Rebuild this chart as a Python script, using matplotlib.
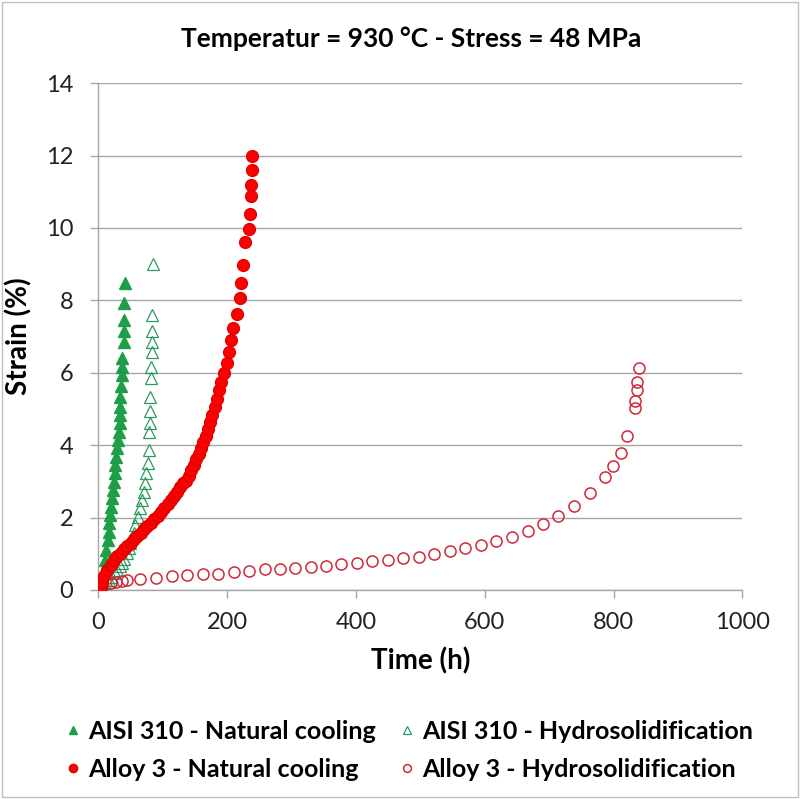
import matplotlib
matplotlib.use("Agg")
import matplotlib.pyplot as plt
from matplotlib.patches import Rectangle

plt.rcParams['font.family'] = ['Lato', 'DejaVu Sans']

# AISI 310 - Natural cooling
t_aisi_nc = [0, 2, 5.7, 8.2, 10.9, 12.4, 14.5, 16, 17.1, 18.7, 19.6, 21.2, 22.8, 23.8,
             25.3, 26.4, 28, 29, 30.6, 31.6, 33.1, 33.1, 34.2, 34.2, 35.2, 36.8, 36.8,
             36.8, 39.4, 39.4, 39.4, 39.4, 42]
s_aisi_nc = [0, 0.05, 0.28, 0.55, 0.83, 1.10, 1.38, 1.61, 1.84, 2.07, 2.30, 2.53, 2.76, 2.99,
             3.22, 3.45, 3.68, 3.91, 4.14, 4.37, 4.60, 4.83, 5.06, 5.34, 5.64, 5.94, 6.17,
             6.40, 6.86, 7.14, 7.46, 7.92, 8.49]

# AISI 310 - Hydrosolidification
t_aisi_hy = [0, 5, 10.9, 16, 21.2, 25, 29, 33, 36.8, 40, 44.6, 47, 49.8, 52, 54.9, 57.5,
             61, 64.2, 67.8, 70.4, 73.1, 74.6, 76.7, 78.2, 78.2, 79.8, 80.9, 80.9, 81.8,
             81.8, 83.4, 83.4, 83.4, 83.4, 85]
s_aisi_hy = [0, 0.10, 0.19, 0.28, 0.37, 0.46, 0.55, 0.65, 0.74, 0.86, 1.01, 1.15, 1.29, 1.43,
             1.57, 1.80, 2.02, 2.26, 2.49, 2.72, 2.95, 3.22, 3.50, 3.87, 4.37, 4.60, 4.93,
             5.34, 5.85, 6.17, 6.58, 6.86, 7.14, 7.60, 9.0]

# Alloy 3 - Natural cooling
t_alloy_nc = [0, 3.6, 5.1, 8.9, 14, 19.1, 24.4, 29.5, 34.7, 40, 45.1, 50.2, 55.5, 60.6,
              65.8, 71.1, 76.2, 81.4, 86.6, 91.8, 96.9, 102.2, 107.3, 112.4, 117.7, 122.8,
              126.4, 130.6, 136.8, 140.4, 144.1, 148.2, 151.9, 156, 159.7, 162.8, 166.4,
              170, 173.1, 176.8, 180.9, 184.5, 187.1, 190.8, 194.9, 199, 202.6, 206.4,
              209.5, 214.6, 219.7, 222, 225, 227, 233.8, 234.8, 236.4, 237.4, 239, 239]
s_alloy_nc = [0, 0.09, 0.23, 0.39, 0.55, 0.69, 0.83, 0.94, 1.03, 1.12, 1.22, 1.31, 1.40, 1.49,
              1.58, 1.68, 1.77, 1.86, 1.95, 2.04, 2.15, 2.26, 2.38, 2.49, 2.60, 2.72,
              2.84, 2.95, 3.02, 3.15, 3.31, 3.45, 3.61, 3.76, 3.91, 4.10, 4.25,
              4.44, 4.65, 4.83, 5.05, 5.27, 5.51, 5.74, 5.99, 6.28, 6.58, 6.91,
              7.23, 7.62, 8.06, 8.47, 8.98, 9.62, 9.96, 10.39, 10.87, 11.19, 11.6, 11.99]

# Alloy 3 - Hydrosolidification
t_alloy_hy = [0, 20, 28, 36, 44, 65, 89, 114, 138, 162, 186, 210, 234, 259, 282, 306, 330,
              354, 377, 402, 425, 450, 473, 498, 521, 546, 569, 594, 618, 642, 667, 690,
              714, 738, 763, 786, 799, 811, 821, 833, 834, 837, 837, 839]
s_alloy_hy = [0, 0.18, 0.23, 0.26, 0.28, 0.30, 0.34, 0.39, 0.40, 0.44, 0.45, 0.50, 0.53, 0.57,
              0.59, 0.62, 0.64, 0.66, 0.71, 0.74, 0.80, 0.83, 0.87, 0.92, 0.99, 1.08, 1.15,
              1.23, 1.35, 1.46, 1.63, 1.82, 2.04, 2.32, 2.67, 3.13, 3.43, 3.79, 4.25, 5.02,
              5.22, 5.52, 5.75, 6.12]

fig = plt.figure(figsize=(8.0, 7.99), dpi=100)
ax = fig.add_axes([0.123, 0.2616, 0.805, 0.6344])

ms = 8.5
h1, = ax.plot(t_aisi_nc, s_aisi_nc, '^', color='#1e9e48', mec='#1e9e48', ms=ms, ls='none',
              label='AISI 310 - Natural cooling', zorder=3)
h2, = ax.plot(t_aisi_hy, s_aisi_hy, '^', mfc='none', mec='#2e9a62', mew=0.9, ms=9, ls='none',
              label='AISI 310 - Hydrosolidification', zorder=3)
h4, = ax.plot(t_alloy_hy, s_alloy_hy, 'o', mfc='none', mec='#d0283a', mew=1.1, ms=8, ls='none',
              label='Alloy 3 - Hydrosolidification', zorder=3)
h3, = ax.plot(t_alloy_nc, s_alloy_nc, 'o', color='#ff0000', mec='#e00000', ms=ms, ls='none',
              label='Alloy 3 - Natural cooling', zorder=4)

ax.set_xlim(0, 1000)
ax.set_ylim(0, 14)
ax.set_xticks(range(0, 1001, 200))
ax.set_yticks(range(0, 15, 2))
ax.grid(axis='y', color='#a6a6a6', lw=1)
ax.set_axisbelow(True)
for sp in ['top', 'right']:
    ax.spines[sp].set_visible(False)
for sp in ['left', 'bottom']:
    ax.spines[sp].set_color('#a6a6a6')
    ax.spines[sp].set_linewidth(1)
ax.tick_params(axis='both', colors='#a6a6a6', labelcolor='#222222', labelsize=17,
               length=6, width=1)
ax.tick_params(axis='y', pad=12)
ax.tick_params(axis='x', pad=10)

ax.set_xlabel('Time (h)', fontsize=20, fontweight='bold', labelpad=10)
ax.set_ylabel('Strain (%)', fontsize=20, fontweight='bold', labelpad=10)
fig.text(0.514, 0.951, 'Temperatur = 930 °C - Stress = 48 MPa', ha='center', va='center',
         fontsize=19, fontweight='bold')

fig.legend(handles=[h1, h3, h2, h4], ncol=2, loc='center', bbox_to_anchor=(0.512, 0.061),
           frameon=False, prop={'size': 18, 'weight': 'bold'}, markerscale=0.7,
           handlelength=0.5, handletextpad=0.35, columnspacing=1.0, labelspacing=0.62)

fig.patches.append(Rectangle((0.002, 0.002), 0.996, 0.996, transform=fig.transFigure,
                             fill=False, ec='#bfbfbf', lw=1))

fig.savefig('out.png', dpi=100)
